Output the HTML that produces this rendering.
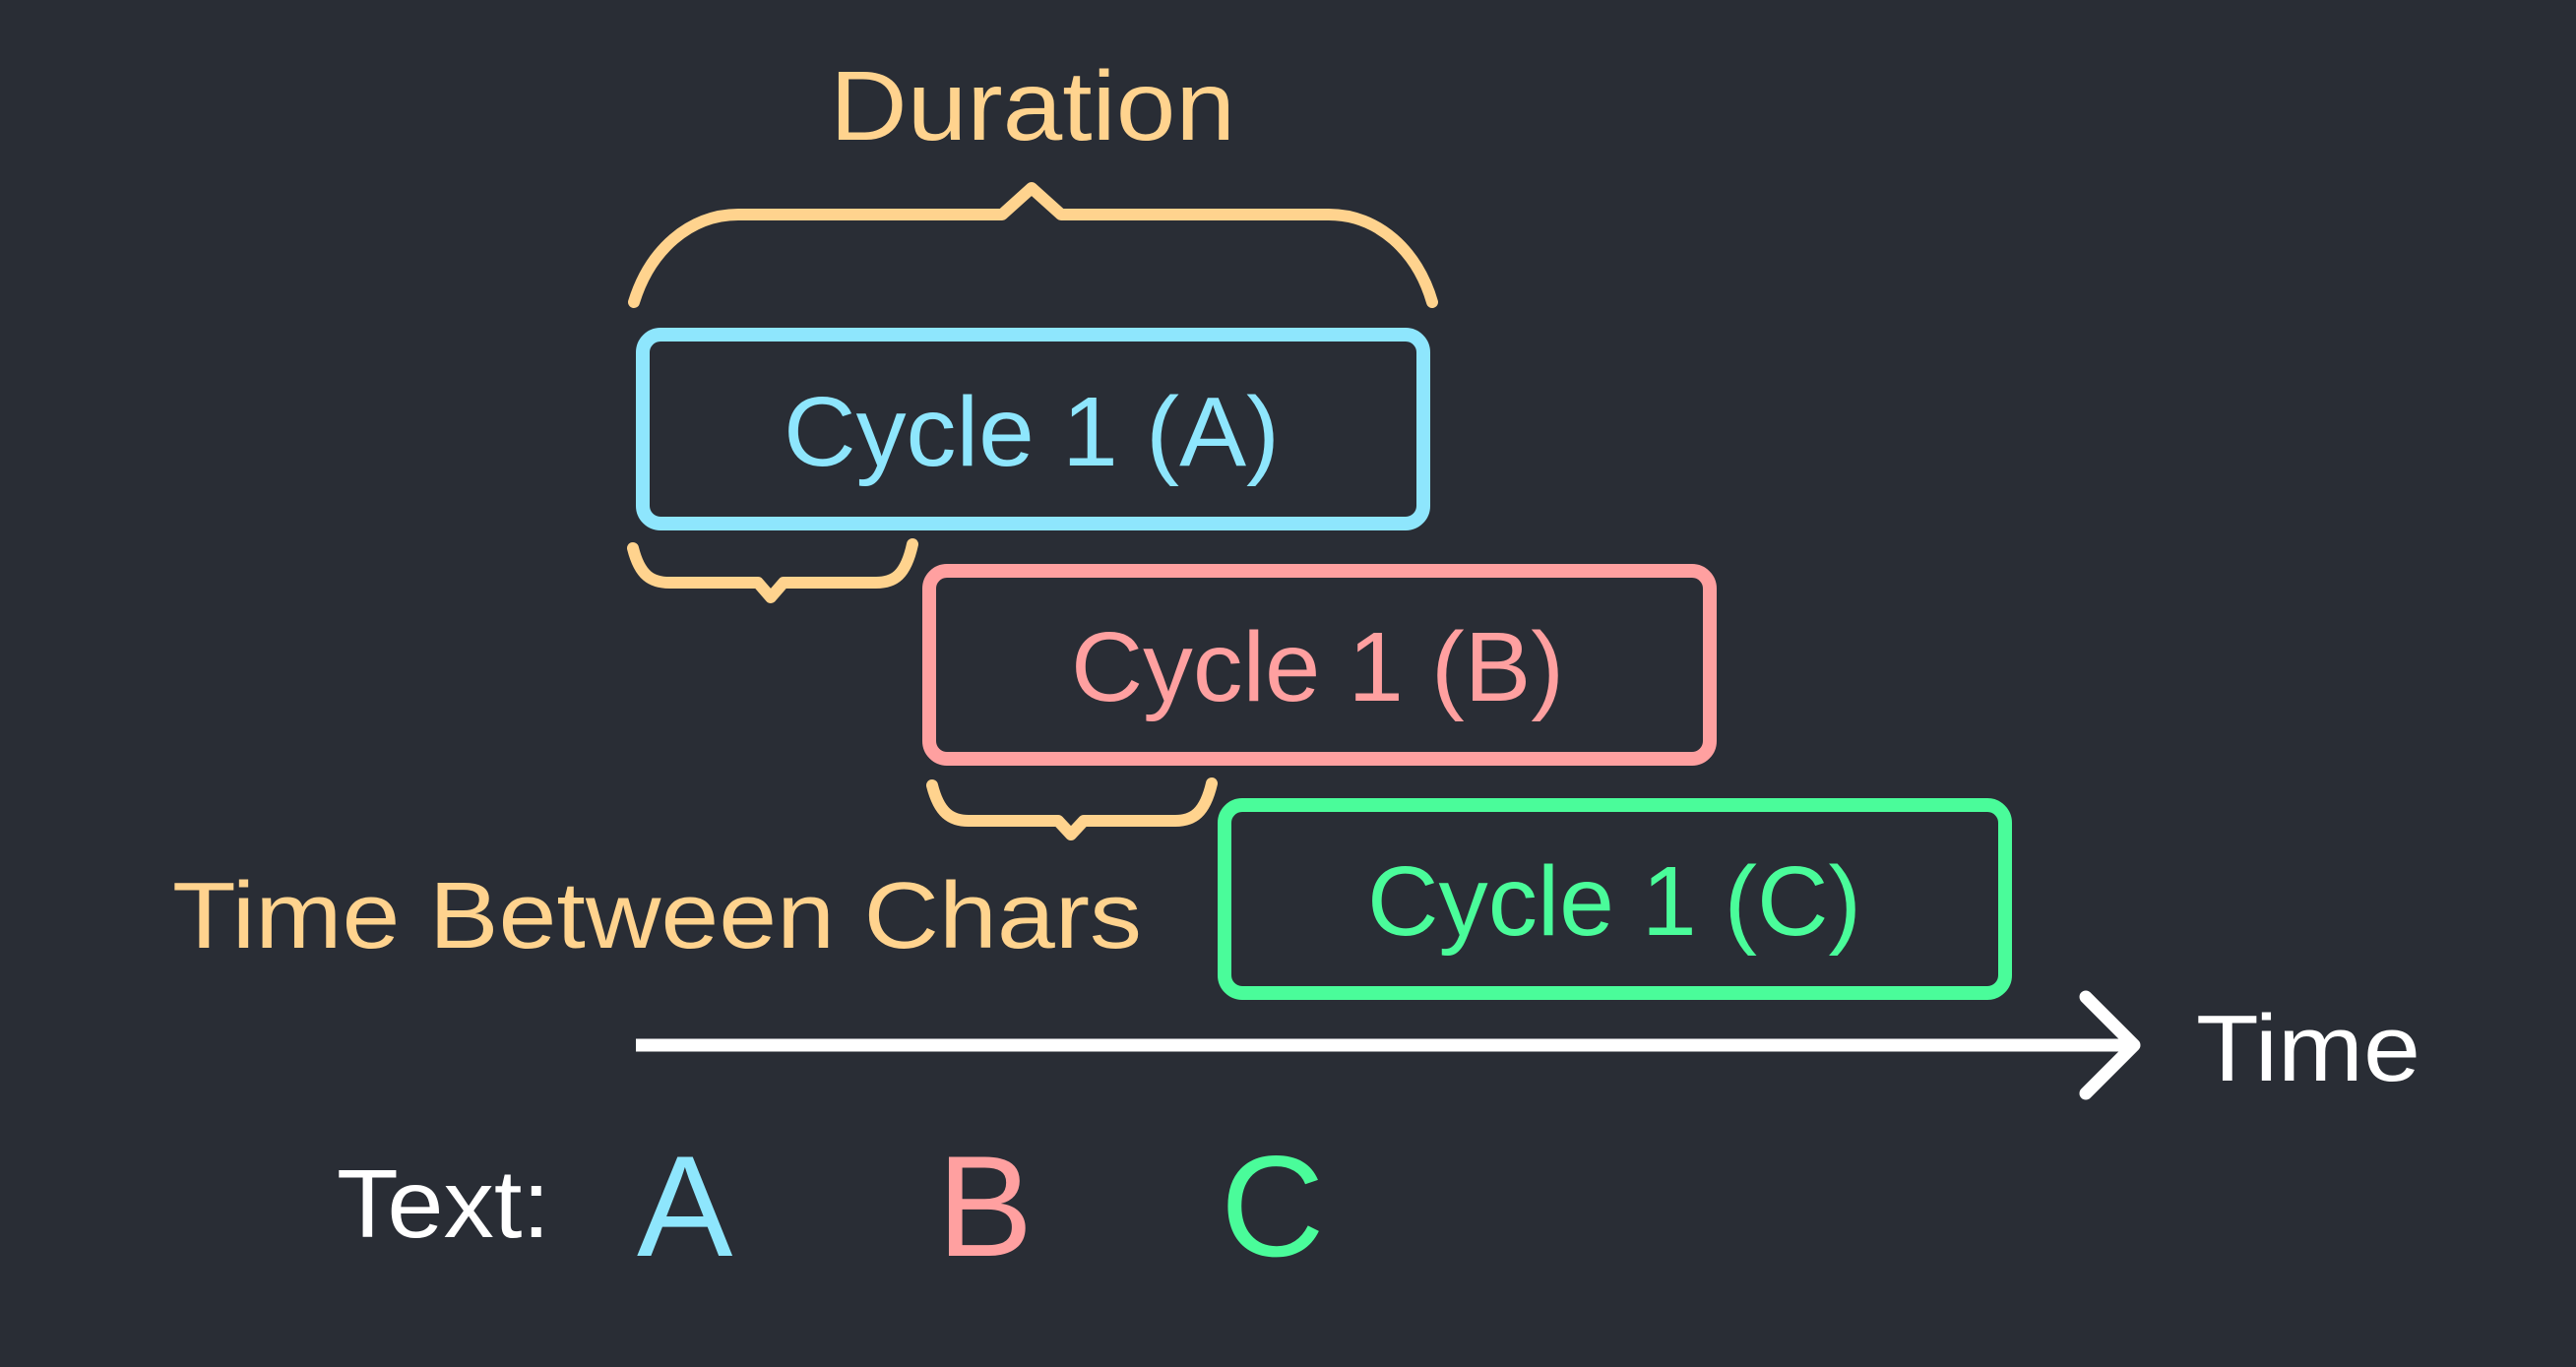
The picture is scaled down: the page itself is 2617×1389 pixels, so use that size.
<!DOCTYPE html>
<html><head><meta charset="utf-8"><style>
html,body{margin:0;padding:0;background:#292d35;}
svg{display:block;}
text{font-family:"Liberation Sans","DejaVu Sans",sans-serif;}
</style></head><body>
<svg width="2617" height="1389" viewBox="0 0 2617 1389">
<rect width="2617" height="1389" fill="#292d35"/>
<text x="843" y="142" font-size="100" fill="#ffd38e" textLength="412" lengthAdjust="spacingAndGlyphs">Duration</text>
<path d="M644 307 C660 255 700 218 750 218 L1018 218 L1048 191 L1078 218 L1350 218 C1400 218 1440 255 1455 307" fill="none" stroke="#ffd38e" stroke-width="12" stroke-linecap="round" stroke-linejoin="round"/>
<rect x="653" y="340" width="793" height="192" rx="18" fill="none" stroke="#8ee6fd" stroke-width="14"/>
<text x="796" y="473" font-size="100" fill="#8ee6fd" textLength="504" lengthAdjust="spacingAndGlyphs">Cycle 1 (A)</text>
<path d="M643 557 C650 585 662 592 680 592 L770 592 L783 607 L796 592 L890 592 C908 592 920 585 927 553" fill="none" stroke="#ffd38e" stroke-width="12" stroke-linecap="round" stroke-linejoin="round"/>
<rect x="944" y="580" width="793" height="191" rx="18" fill="none" stroke="#ffa0a0" stroke-width="14"/>
<text x="1088" y="712" font-size="100" fill="#ffa0a0" textLength="501" lengthAdjust="spacingAndGlyphs">Cycle 1 (B)</text>
<path d="M947 798 C954 826 966 834 984 834 L1075 834 L1088 848 L1101 834 L1194 834 C1212 834 1224 826 1231 796" fill="none" stroke="#ffd38e" stroke-width="12" stroke-linecap="round" stroke-linejoin="round"/>
<rect x="1244" y="818" width="793" height="191" rx="18" fill="none" stroke="#4afc9a" stroke-width="14"/>
<text x="1389" y="950" font-size="100" fill="#4afc9a" textLength="502" lengthAdjust="spacingAndGlyphs">Cycle 1 (C)</text>
<text x="175" y="963" font-size="96" fill="#ffd38e" textLength="985" lengthAdjust="spacingAndGlyphs">Time Between Chars</text>
<line x1="646" y1="1062" x2="2168" y2="1062" stroke="#ffffff" stroke-width="13"/>
<path d="M2119 1013 L2168 1062 L2119 1111" fill="none" stroke="#ffffff" stroke-width="13" stroke-linecap="round" stroke-linejoin="round"/>
<text x="2231" y="1098" font-size="96" fill="#ffffff" textLength="228" lengthAdjust="spacingAndGlyphs">Time</text>
<text x="342" y="1257" font-size="98" fill="#ffffff" textLength="217" lengthAdjust="spacingAndGlyphs">Text:</text>
<text x="647" y="1276" font-size="146" fill="#8ee6fd">A</text>
<text x="952" y="1276" font-size="146" fill="#ffa0a0">B</text>
<text x="1240" y="1276" font-size="146" fill="#4afc9a">C</text>
</svg>
</body></html>
